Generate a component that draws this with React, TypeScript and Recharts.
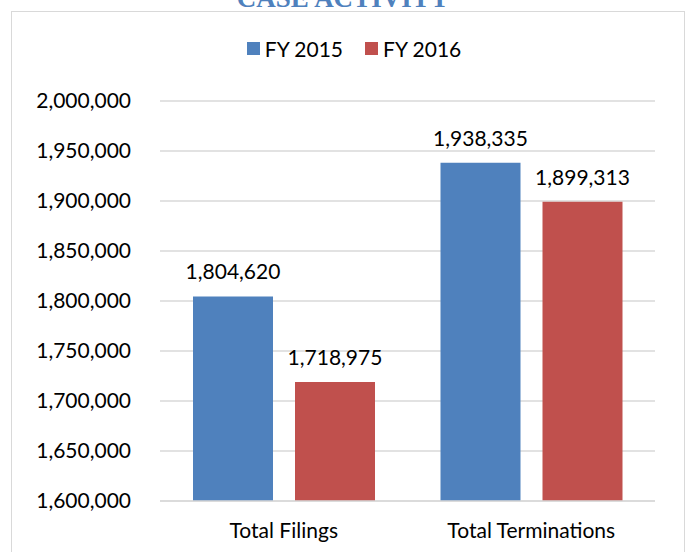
import React from "react";
import { BarChart, Bar, XAxis, YAxis, CartesianGrid, Legend, LabelList } from "recharts";

const categories = ["Total Filings", "Total Terminations"];
const fy2015 = [1804620, 1938335];
const fy2016 = [1718975, 1899313];
const yTicks = [1600000, 1650000, 1700000, 1750000, 1800000, 1850000, 1900000, 1950000, 2000000];

const BLUE = "#4f81bd";
const RED = "#c0504d";
const FONT = "Lato, 'Open Sans', sans-serif";

const data = categories.map((name, i) => ({ name, fy2015: fy2015[i], fy2016: fy2016[i] }));

const fmt = (v: unknown) => Number(v).toLocaleString("en-US");

const LegendContent = () => (
  <div style={{ display: "flex", justifyContent: "center", alignItems: "center", fontFamily: FONT, fontSize: 21, color: "#000", paddingLeft: 22 }}>
    {[
      { label: "FY 2015", color: BLUE },
      { label: "FY 2016", color: RED },
    ].map((it, i) => (
      <div key={it.label} style={{ display: "flex", alignItems: "center", marginLeft: i ? 22 : 0 }}>
        <span style={{ width: 13, height: 13, background: it.color, display: "inline-block", marginRight: 5 }} />
        <span>{it.label}</span>
      </div>
    ))}
  </div>
);

export default function App() {
  return (
    <div style={{ position: "absolute", left: 0, top: 0, width: 686, height: 552, background: "#fff", overflow: "hidden" }}>
      <div
        style={{
          position: "absolute", left: 0, width: 686, top: -17, textAlign: "center",
          fontFamily: "'Liberation Serif', serif", fontWeight: 700, fontSize: 27, color: BLUE, lineHeight: "30px",
        }}
      >
        CASE ACTIVITY
      </div>
      <div style={{ position: "absolute", left: 11, top: 11, width: 672, height: 560, border: "1.5px solid #d9d9d9" }} />
      <div style={{ position: "absolute", left: 0, top: 0 }}>
        <BarChart
          width={686}
          height={552}
          data={data}
          margin={{ top: 101, right: 31, bottom: 0, left: 0 }}
          barSize={80}
          barGap={22}
        >
          <CartesianGrid vertical={false} stroke="#d9d9d9" strokeWidth={1.5} />
          <XAxis
            dataKey="name"
            height={51}
            tickSize={0}
            tickLine={false}
            tickMargin={22}
            axisLine={{ stroke: "#d9d9d9", strokeWidth: 1.5 }}
            tick={{ fill: "#000", fontSize: 21, fontFamily: FONT }}
          />
          <YAxis
            width={160}
            domain={[1600000, 2000000]}
            ticks={yTicks}
            tickSize={0}
            tickLine={false}
            tickMargin={29}
            axisLine={false}
            tickFormatter={fmt}
            tick={{ fill: "#000", fontSize: 21, fontFamily: FONT }}
          />
          <Legend verticalAlign="middle" wrapperStyle={{ top: 36, left: 0, width: 686 }} content={<LegendContent />} />
          <Bar dataKey="fy2015" name="FY 2015" fill={BLUE} isAnimationActive={false}>
            <LabelList dataKey="fy2015" position="top" offset={17} formatter={fmt} style={{ fill: "#000", fontSize: 21, fontFamily: FONT }} />
          </Bar>
          <Bar dataKey="fy2016" name="FY 2016" fill={RED} isAnimationActive={false}>
            <LabelList dataKey="fy2016" position="top" offset={17} formatter={fmt} style={{ fill: "#000", fontSize: 21, fontFamily: FONT }} />
          </Bar>
        </BarChart>
      </div>
    </div>
  );
}
